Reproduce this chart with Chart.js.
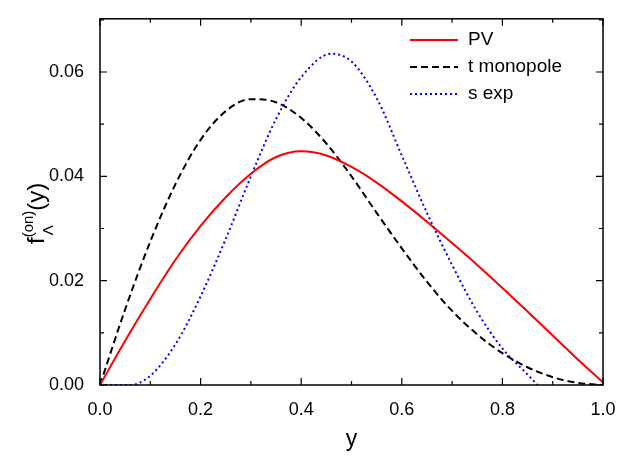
<!DOCTYPE html>
<html><head><meta charset="utf-8">
<script src="https://cdn.jsdelivr.net/npm/chart.js@4"></script>
<style>html,body{margin:0;padding:0;background:#fff}#w{width:623px;height:457px}</style>
</head><body><div id="w"><canvas id="c"></canvas></div>
<script>
const pvX=[0,0.05,0.1,0.15,0.2,0.25,0.3,0.35,0.4,0.45,0.5,0.55,0.6,0.65,0.7,0.75,0.8,0.85,0.9,0.95,1.0];
const pvY=[0,0.0085,0.0165,0.024,0.0305,0.036,0.0405,0.0437,0.0448,0.0440,0.0418,0.0388,0.0352,0.0313,0.0272,0.0230,0.0186,0.0141,0.0095,0.0049,0.0005];
const tmX=[0,0.05,0.1,0.15,0.2,0.25,0.3,0.35,0.4,0.45,0.5,0.55,0.6,0.65,0.7,0.75,0.8,0.85,0.9,0.95,1.0];
const tmY=[0,0.0145,0.0275,0.0385,0.047,0.0525,0.0548,0.0542,0.0512,0.0463,0.0400,0.0330,0.0262,0.0198,0.0142,0.0097,0.0061,0.0034,0.0015,0.0004,0];
const seX=[0,0.06,0.1,0.15,0.2,0.25,0.3,0.35,0.4,0.46,0.5,0.55,0.6,0.65,0.7,0.75,0.8,0.85,0.87];
const seY=[0,0,0.0018,0.0078,0.017,0.028,0.040,0.051,0.059,0.0635,0.062,0.055,0.044,0.033,0.023,0.014,0.007,0.002,0];
const xTicks=[0,0.2,0.4,0.6,0.8,1.0];
const yTicks=[0,0.02,0.04,0.06];
const names=['PV','t monopole','s exp'];
const colors=['#ff0000','#000000','#0000ff'];
const dashes=[[],[7,4],[2,3]];
const pts=(xs,ys)=>xs.map((x,i)=>({x,y:ys[i]}));
const F='"Liberation Sans", Arial, sans-serif';
const deco={id:'deco',afterDraw(ch){
 const c=ch.ctx,a=ch.chartArea,xs=ch.scales.x,ys=ch.scales.y;
 c.save();c.strokeStyle='#000';c.lineWidth=1.5;
 c.strokeRect(a.left,a.top,a.right-a.left,a.bottom-a.top);
 c.lineWidth=1.2;c.beginPath();
 for(let v=0;v<=1.0001;v+=0.1){const p=xs.getPixelForValue(v),L=(Math.round(v*10)%2==0)?7:4;
  c.moveTo(p,a.bottom);c.lineTo(p,a.bottom-L);c.moveTo(p,a.top);c.lineTo(p,a.top+L);}
 for(let v=0;v<=0.07;v+=0.01){const p=ys.getPixelForValue(v),L=(Math.round(v*100)%2==0)?7:4;
  c.moveTo(a.left,p);c.lineTo(a.left+L,p);c.moveTo(a.right,p);c.lineTo(a.right-L,p);}
 c.stroke();
 c.font='19px '+F;c.fillStyle='#000';c.textBaseline='middle';
 names.forEach((n,i)=>{const y=40+i*27;c.strokeStyle=colors[i];c.lineWidth=2;c.setLineDash(dashes[i]);
  c.beginPath();c.moveTo(410,y);c.lineTo(458,y);c.stroke();c.setLineDash([]);c.fillText(n,468,y);});
 c.translate(44,198);c.rotate(-Math.PI/2);c.textBaseline='alphabetic';c.textAlign='left';
 c.font='24px '+F;let x=-46;c.fillText('f',x,0);x+=c.measureText('f').width;
 c.font='15px '+F;c.fillText('(on)',x,-11);c.fillText('Λ',x+2,9);x+=c.measureText('(on)').width;
 c.font='24px '+F;c.fillText('(y)',x,0);
 c.restore();}};
new Chart(document.getElementById('c'),{type:'scatter',
 data:{datasets:[pts(pvX,pvY),pts(tmX,tmY),pts(seX,seY)].map((d,i)=>({label:names[i],data:d,showLine:true,
  borderColor:colors[i],borderDash:dashes[i],borderWidth:2,pointRadius:0,cubicInterpolationMode:'monotone'}))},
 options:{responsive:true,maintainAspectRatio:false,animation:false,
  layout:{padding:{top:6,right:20}},
  plugins:{legend:{display:false},tooltip:{enabled:false}},
  scales:{
   x:{type:'linear',min:0,max:1,afterBuildTicks:s=>{s.ticks=xTicks.map(v=>({value:v}))},
    afterFit:s=>{s.height=72},grid:{display:false},border:{display:false},
    ticks:{color:'#000',font:{size:18,family:F},padding:6,callback:v=>v.toFixed(1)},
    title:{display:true,text:'y',color:'#000',font:{size:23,family:F},padding:{top:2}}},
   y:{min:0,max:0.0702,afterBuildTicks:s=>{s.ticks=yTicks.map(v=>({value:v}))},
    afterFit:s=>{s.width=100},grid:{display:false},border:{display:false},
    ticks:{color:'#000',font:{size:18,family:F},padding:8,callback:v=>v.toFixed(2)}}}},
 plugins:[deco]});
</script></body></html>
